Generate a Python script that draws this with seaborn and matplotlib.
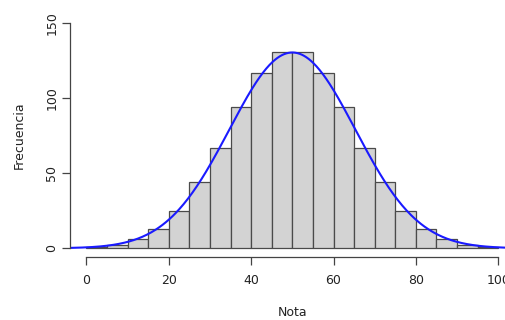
import numpy as np
import pandas as pd
import matplotlib
matplotlib.use("Agg")
import matplotlib.pyplot as plt
import seaborn as sns

# Data
bin_edges = [0, 5, 10, 15, 20, 25, 30, 35, 40, 45, 50, 55, 60, 65, 70, 75, 80, 85, 90, 95, 100]
counts = [1, 2, 6, 13, 25, 44, 67, 94, 117, 131, 131, 117, 94, 67, 44, 25, 13, 6, 2, 1]
curve_mean = 50.0
curve_sd = 15.3
x_ticks = [0, 20, 40, 60, 80, 100]
y_ticks = [0, 50, 100, 150]

sns.set_style("white")
plt.rcParams['font.family'] = ['DejaVu Sans']

mids = [(a + b) / 2 for a, b in zip(bin_edges[:-1], bin_edges[1:])]
df = pd.DataFrame({"Nota": mids, "n": counts})

fig = plt.figure(figsize=(5.05, 3.20), dpi=100)
ax = fig.add_axes([70 / 505, 1 - 257.3 / 320, (514.7 - 70) / 505, (257.3 - 14) / 320])

sns.histplot(data=df, x="Nota", weights="n", bins=bin_edges, ax=ax,
             color="#D3D3D3", edgecolor="#4a4a4a", linewidth=0.9, alpha=1.0)

n_total = sum(counts)
width = bin_edges[1] - bin_edges[0]
xs = np.linspace(-4, 104, 400)
ys = n_total * width * np.exp(-0.5 * ((xs - curve_mean) / curve_sd) ** 2) / (curve_sd * np.sqrt(2 * np.pi))
sns.lineplot(x=xs, y=ys, ax=ax, color="#1a1aff", linewidth=1.5)

ax.set_xlim(-4, 104)
ax.set_ylim(-6, 156)
ax.set_xticks(x_ticks)
ax.set_yticks(y_ticks)
ax.set_yticklabels([str(v) for v in y_ticks], rotation=90, va="center")

for s in ["top", "right"]:
    ax.spines[s].set_visible(False)
ax.spines["left"].set_bounds(0, 150)
ax.spines["bottom"].set_bounds(0, 100)
for s in ["left", "bottom"]:
    ax.spines[s].set_color("#444444")
    ax.spines[s].set_linewidth(0.9)
ax.tick_params(axis="both", direction="out", length=5.5, width=0.9, color="#444444",
               labelsize=9, labelcolor="#222222", left=True, bottom=True)
ax.tick_params(axis="x", pad=6.5)
ax.tick_params(axis="y", pad=3)

ax.set_xlabel("Nota", fontsize=9, color="#222222", labelpad=13.5)
ax.set_ylabel("Frecuencia", fontsize=9, color="#222222", labelpad=14)
ax.grid(False)

fig.savefig("out.png", dpi=100)
